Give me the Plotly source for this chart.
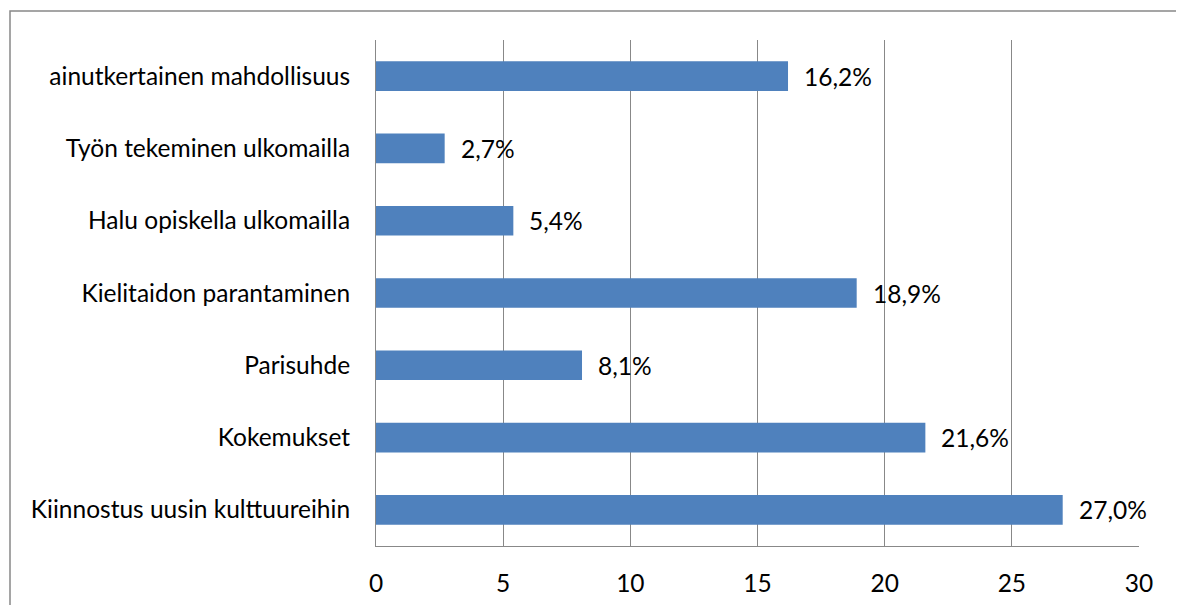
import plotly.graph_objects as go

categories = [
    "ainutkertainen mahdollisuus",
    "Työn tekeminen ulkomailla",
    "Halu opiskella ulkomailla",
    "Kielitaidon parantaminen",
    "Parisuhde",
    "Kokemukset",
    "Kiinnostus uusin kulttuureihin",
]
values = [16.2, 2.7, 5.4, 18.9, 8.1, 21.6, 27.0]
labels = ["16,2%", "2,7%", "5,4%", "18,9%", "8,1%", "21,6%", "27,0%"]
x_ticks = [0, 5, 10, 15, 20, 25, 30]

FONT = "Lato"
FS = 24.5
GRAY = "#888888"

# page body has an 8px offset; plot area at absolute x 376..1139, y 40..546
OFF = 8
W, H = 1176, 597
L, R = 376 - OFF, W - (1139 - OFF)
T, B = 40 - OFF, H - (546 - OFF)
PW, PH = 1139 - 376, 546 - 40

fig = go.Figure()
fig.add_trace(go.Bar(
    x=values, y=categories, orientation="h",
    marker=dict(color="#4F81BD", line=dict(width=0)),
    width=0.41, hoverinfo="skip",
))

for v, c, t in zip(values, categories, labels):
    fig.add_annotation(x=v, y=c, text=t, showarrow=False, xanchor="left",
                       xshift=14, font=dict(family=FONT, size=FS, color="#000000"))

fig.update_layout(
    width=W, height=H,
    margin=dict(l=L, r=R, t=T, b=B, pad=0),
    paper_bgcolor="white", plot_bgcolor="white",
    showlegend=False,
    font=dict(family=FONT, size=FS, color="#000000"),
    xaxis=dict(range=[0, 30], tickvals=x_ticks, showgrid=True, gridcolor=GRAY, gridwidth=1,
               showline=True, linecolor=GRAY, linewidth=1, zeroline=False, automargin=False,
               ticks="", ticklabelstandoff=16, fixedrange=True),
    yaxis=dict(range=[len(categories) - 0.5, -0.5], showgrid=False, showline=True,
               automargin=False, linecolor=GRAY, linewidth=1, ticks="",
               ticklabelstandoff=20, fixedrange=True),
    shapes=[dict(type="rect", xref="paper", yref="paper",
                 x0=(10 - 376) / PW, x1=(1182 - 376) / PW,
                 y0=-0.3, y1=(546 - 11) / PH,
                 line=dict(color=GRAY, width=1.5), fillcolor="rgba(0,0,0,0)", layer="below")],
)

fig.write_html("out.html")
